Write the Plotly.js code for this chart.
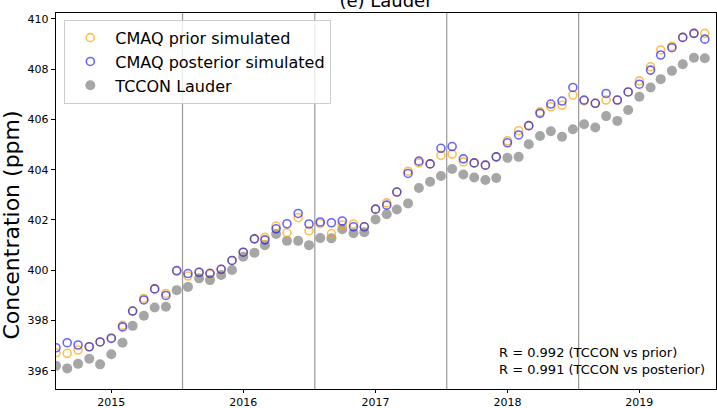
<!DOCTYPE html>
<html>
<head>
<meta charset="utf-8">
<script src="https://cdn.plot.ly/plotly-3.0.1.min.js"></script>
<style>html,body{margin:0;padding:0;background:#fff;}#chart{width:717px;height:408px;}</style>
</head>
<body>
<div id="chart"></div>
<script>
const months = [
 '2014-08-01','2014-09-01','2014-10-01','2014-11-01','2014-12-01',
 '2015-01-01','2015-02-01','2015-03-01','2015-04-01','2015-05-01','2015-06-01','2015-07-01','2015-08-01','2015-09-01','2015-10-01','2015-11-01','2015-12-01',
 '2016-01-01','2016-02-01','2016-03-01','2016-04-01','2016-05-01','2016-06-01','2016-07-01','2016-08-01','2016-09-01','2016-10-01','2016-11-01','2016-12-01',
 '2017-01-01','2017-02-01','2017-03-01','2017-04-01','2017-05-01','2017-06-01','2017-07-01','2017-08-01','2017-09-01','2017-10-01','2017-11-01','2017-12-01',
 '2018-01-01','2018-02-01','2018-03-01','2018-04-01','2018-05-01','2018-06-01','2018-07-01','2018-08-01','2018-09-01','2018-10-01','2018-11-01','2018-12-01',
 '2019-01-01','2019-02-01','2019-03-01','2019-04-01','2019-05-01','2019-06-01','2019-07-01'
];
const tcconLauder = [
 396.20,396.10,396.28,396.48,396.26,
 396.66,397.12,397.79,398.19,398.52,398.55,399.21,399.34,399.68,399.61,399.81,400.01,
 400.54,400.70,401.00,401.44,401.17,401.17,401.00,401.28,401.27,401.63,401.47,401.51,
 402.02,402.23,402.42,402.66,403.27,403.52,403.75,404.03,403.81,403.69,403.59,403.67,
 404.47,404.51,405.01,405.34,405.53,405.31,405.61,405.81,405.68,406.13,405.94,406.37,
 406.90,407.27,407.60,407.93,408.19,408.45,408.43
];
const cmaqPrior = [
 396.72,396.70,396.83,396.96,397.15,
 397.32,397.81,398.38,398.88,399.26,399.08,399.96,399.77,399.92,399.85,400.04,400.39,
 400.72,401.25,401.31,401.76,401.49,402.09,401.57,401.86,401.45,401.80,401.84,401.73,
 402.43,402.68,403.11,403.94,404.27,404.23,404.57,404.62,404.31,404.27,404.18,404.51,
 405.15,405.55,405.75,406.30,406.50,406.56,406.97,406.74,406.64,406.77,406.77,407.09,
 407.53,408.09,408.76,408.91,409.26,409.42,409.42
];
const cmaqPosterior = [
 396.92,397.12,397.03,396.96,397.15,
 397.29,397.75,398.38,398.82,399.26,399.00,399.99,399.87,399.92,399.88,400.04,400.39,
 400.72,401.25,401.21,401.65,401.85,402.26,401.84,401.92,401.89,401.96,401.73,401.73,
 402.43,402.59,403.11,403.85,404.34,404.23,404.85,404.92,404.43,404.27,404.18,404.51,
 405.07,405.38,405.75,406.24,406.61,406.73,407.27,406.77,406.64,407.03,406.77,407.09,
 407.40,407.96,408.56,408.85,409.26,409.42,409.19
];
const seriesNames = ['CMAQ prior simulated','CMAQ posterior simulated','TCCON Lauder'];
const markerLines = ['2015-07-17','2016-07-17','2017-07-17','2018-07-17'];
const yTicks = [396,398,400,402,404,406,408,410];
const xTicks = ['2015-01-01','2016-01-01','2017-01-01','2018-01-01','2019-01-01'];
const xTickText = ['2015','2016','2017','2018','2019'];
const statLines = ['R = 0.992 (TCCON vs prior)','R = 0.991 (TCCON vs posterior)'];
const chartTitle = '(e) Lauder';
const yLabel = 'Concentration (ppm)';

const font = 'DejaVu Sans, sans-serif';
const traces = [
  {x: months, y: tcconLauder, name: seriesNames[2], type: 'scatter', mode: 'markers', legendrank: 3,
   marker: {symbol: 'circle', size: 10, color: 'rgba(128,128,128,0.7)', line: {width: 0}}},
  {x: months, y: cmaqPrior, name: seriesNames[0], type: 'scatter', mode: 'markers', legendrank: 1,
   marker: {symbol: 'circle-open', size: 8, color: 'rgba(255,165,0,0.7)', line: {width: 1.6}}},
  {x: months, y: cmaqPosterior, name: seriesNames[1], type: 'scatter', mode: 'markers', legendrank: 2,
   marker: {symbol: 'circle-open', size: 8, color: 'rgba(0,0,255,0.6)', line: {width: 1.6}}}
];
const layout = {
  width: 717, height: 408,
  margin: {l: 56, r: 1, t: 13, b: 19, pad: 0},
  paper_bgcolor: '#fff', plot_bgcolor: '#fff',
  font: {family: font, color: '#000', size: 11},
  title: {text: chartTitle, font: {family: font, size: 18, color: '#000'},
          x: 0.5, xref: 'paper', y: 0.983, yref: 'container', yanchor: 'bottom'},
  showlegend: true,
  legend: {x: 0.0126, y: 0.982, xanchor: 'left', yanchor: 'top',
           bgcolor: 'rgba(255,255,255,0.8)', bordercolor: '#cccccc', borderwidth: 1,
           font: {family: font, size: 16, color: '#000'}, itemwidth: 40, traceorder: 'normal'},
  xaxis: {type: 'date', range: ['2014-08-01', '2019-08-01'], tickmode: 'array', tickvals: xTicks, ticktext: xTickText,
          ticks: 'outside', ticklen: 3, tickwidth: 1, tickcolor: '#000', showgrid: false, zeroline: false,
          showline: true, linecolor: '#000', linewidth: 1.2, mirror: true, tickfont: {size: 11}},
  yaxis: {range: [395.28, 410.23], tickmode: 'array', tickvals: yTicks,
          ticks: 'outside', ticklen: 4, tickwidth: 1, tickcolor: '#000', showgrid: false, zeroline: false,
          showline: true, linecolor: '#000', linewidth: 1.2, mirror: true, tickfont: {size: 11}},
  shapes: markerLines.map(d => ({type: 'line', xref: 'x', yref: 'paper', x0: d, x1: d, y0: 0, y1: 1,
          line: {color: '#999999', width: 1.2}, layer: 'below'})),
  annotations: [
    {xref: 'paper', yref: 'paper', x: 0.668, y: 0.027, xanchor: 'left', yanchor: 'bottom', align: 'left',
     showarrow: false, text: statLines.join('<br>'), font: {family: font, size: 13, color: '#000'}},
    {xref: 'paper', yref: 'paper', x: -0.0674, y: 0.436, xanchor: 'center', yanchor: 'middle', textangle: -90,
     showarrow: false, text: yLabel, font: {family: font, size: 22, color: '#000'}}
  ]
};
Plotly.newPlot('chart', traces, layout, {displayModeBar: false, staticPlot: true});
</script>
</body>
</html>
